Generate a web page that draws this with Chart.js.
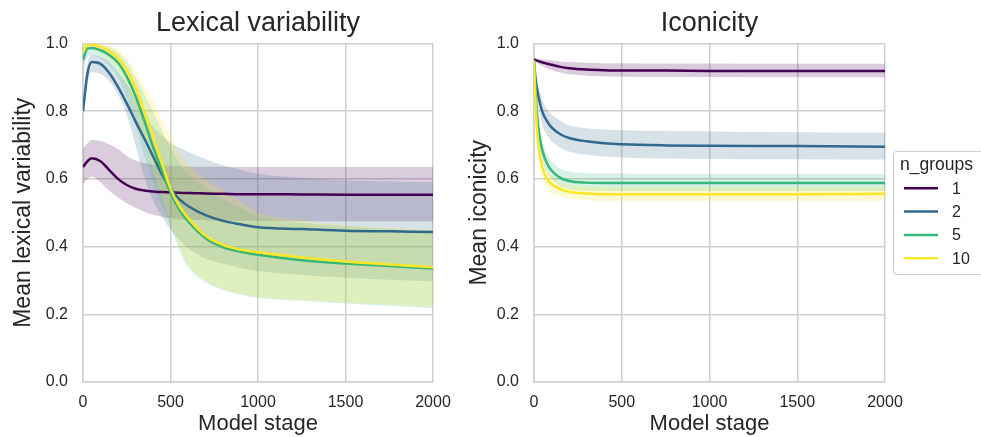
<!DOCTYPE html>
<html>
<head>
<meta charset="utf-8">
<script src="https://cdn.jsdelivr.net/npm/chart.js@4"></script>
<style>
    html, body { margin: 0; padding: 0; background: #fff; overflow: hidden; }
    #lexBox { position: absolute; left: 0; top: 0; width: 470px; height: 442px; }
    #iconBox { position: absolute; left: 450px; top: 0; width: 531px; height: 442px; }
</style>
</head>
<body>
<div id="lexBox"><canvas id="lexCanvas"></canvas></div>
<div id="iconBox"><canvas id="iconCanvas"></canvas></div>
<script>
// groups (hue)
const groupLabels = ["1", "2", "5", "10"];
const groupColors = ["#440154", "#31688e", "#35b779", "#fde725"];

// Lexical variability
const lexStages = [0, 25, 50, 100, 150, 200, 250, 300, 350, 400, 450, 500, 550, 600, 700, 800, 900, 1000, 1250, 1500, 1750, 2000];
const lexMean1 = [0.635, 0.652, 0.661, 0.652, 0.626, 0.600, 0.582, 0.571, 0.566, 0.563, 0.561, 0.560, 0.559, 0.558, 0.557, 0.556, 0.555, 0.555, 0.554, 0.553, 0.553, 0.553];
const lexHigh1 = [0.690, 0.705, 0.715, 0.712, 0.702, 0.688, 0.668, 0.655, 0.647, 0.642, 0.640, 0.639, 0.638, 0.637, 0.636, 0.636, 0.635, 0.635, 0.635, 0.635, 0.635, 0.635];
const lexLow1 = [0.585, 0.600, 0.607, 0.590, 0.565, 0.545, 0.528, 0.515, 0.503, 0.494, 0.488, 0.484, 0.481, 0.479, 0.478, 0.477, 0.476, 0.476, 0.475, 0.475, 0.475, 0.475];
const lexMean2 = [0.800, 0.910, 0.945, 0.940, 0.913, 0.872, 0.823, 0.770, 0.720, 0.667, 0.614, 0.572, 0.540, 0.520, 0.493, 0.476, 0.466, 0.457, 0.452, 0.447, 0.445, 0.443];
const lexHigh2 = [0.830, 0.940, 0.965, 0.960, 0.945, 0.915, 0.880, 0.835, 0.795, 0.755, 0.730, 0.706, 0.692, 0.680, 0.658, 0.640, 0.627, 0.615, 0.603, 0.596, 0.592, 0.590];
const lexLow2 = [0.780, 0.880, 0.915, 0.910, 0.888, 0.850, 0.790, 0.700, 0.605, 0.538, 0.490, 0.450, 0.420, 0.395, 0.365, 0.350, 0.337, 0.328, 0.316, 0.308, 0.302, 0.298];
const lexMean5 = [0.950, 0.985, 0.987, 0.980, 0.966, 0.943, 0.902, 0.845, 0.772, 0.695, 0.625, 0.560, 0.510, 0.475, 0.425, 0.398, 0.385, 0.376, 0.360, 0.350, 0.343, 0.335];
const lexHigh5 = [0.985, 0.998, 0.998, 0.995, 0.988, 0.975, 0.945, 0.900, 0.850, 0.800, 0.745, 0.690, 0.650, 0.615, 0.575, 0.540, 0.515, 0.490, 0.470, 0.460, 0.452, 0.447];
const lexLow5 = [0.900, 0.960, 0.965, 0.955, 0.935, 0.900, 0.840, 0.760, 0.670, 0.590, 0.520, 0.460, 0.390, 0.340, 0.295, 0.272, 0.258, 0.248, 0.240, 0.232, 0.225, 0.218];
const lexMean10 = [0.975, 0.995, 0.997, 0.990, 0.978, 0.957, 0.922, 0.870, 0.800, 0.726, 0.648, 0.572, 0.520, 0.485, 0.432, 0.405, 0.391, 0.383, 0.368, 0.356, 0.347, 0.339];
const lexHigh10 = [0.998, 1.000, 1.000, 1.000, 0.995, 0.985, 0.955, 0.918, 0.875, 0.830, 0.775, 0.725, 0.680, 0.645, 0.600, 0.565, 0.535, 0.500, 0.478, 0.463, 0.455, 0.450];
const lexLow10 = [0.930, 0.985, 0.990, 0.975, 0.955, 0.925, 0.875, 0.800, 0.715, 0.630, 0.550, 0.475, 0.405, 0.350, 0.300, 0.275, 0.262, 0.252, 0.243, 0.235, 0.228, 0.224];

// Iconicity
const iconStages = [0, 10, 25, 50, 75, 100, 150, 200, 300, 400, 500, 750, 1000, 1500, 2000];
const iconMean1 = [0.953, 0.951, 0.948, 0.944, 0.940, 0.937, 0.931, 0.927, 0.923, 0.921, 0.920, 0.920, 0.919, 0.919, 0.919];
const iconHigh1 = [0.957, 0.956, 0.955, 0.953, 0.951, 0.950, 0.947, 0.945, 0.943, 0.942, 0.942, 0.941, 0.941, 0.940, 0.940];
const iconLow1 = [0.949, 0.946, 0.940, 0.933, 0.927, 0.922, 0.914, 0.909, 0.905, 0.903, 0.902, 0.901, 0.901, 0.900, 0.900];
const iconMean2 = [0.950, 0.890, 0.845, 0.795, 0.770, 0.752, 0.732, 0.721, 0.711, 0.705, 0.702, 0.699, 0.698, 0.697, 0.695];
const iconHigh2 = [0.955, 0.915, 0.875, 0.830, 0.805, 0.790, 0.772, 0.758, 0.750, 0.746, 0.744, 0.742, 0.740, 0.738, 0.737];
const iconLow2 = [0.945, 0.865, 0.815, 0.755, 0.730, 0.712, 0.692, 0.681, 0.671, 0.666, 0.663, 0.660, 0.659, 0.658, 0.657];
const iconMean5 = [0.950, 0.850, 0.750, 0.680, 0.645, 0.625, 0.603, 0.594, 0.589, 0.588, 0.588, 0.588, 0.588, 0.588, 0.588];
const iconHigh5 = [0.955, 0.875, 0.780, 0.710, 0.672, 0.652, 0.630, 0.622, 0.617, 0.616, 0.616, 0.615, 0.615, 0.615, 0.615];
const iconLow5 = [0.945, 0.825, 0.720, 0.650, 0.618, 0.600, 0.578, 0.569, 0.565, 0.564, 0.564, 0.564, 0.564, 0.564, 0.564];
const iconMean10 = [0.950, 0.810, 0.700, 0.630, 0.600, 0.585, 0.570, 0.562, 0.557, 0.555, 0.555, 0.555, 0.555, 0.555, 0.556];
const iconHigh10 = [0.955, 0.840, 0.730, 0.660, 0.625, 0.610, 0.590, 0.582, 0.578, 0.576, 0.576, 0.575, 0.575, 0.575, 0.575];
const iconLow10 = [0.945, 0.780, 0.670, 0.600, 0.575, 0.560, 0.548, 0.542, 0.537, 0.535, 0.535, 0.535, 0.535, 0.535, 0.535];

const xTicks = [0, 500, 1000, 1500, 2000];
const yTicks = [0, 0.2, 0.4, 0.6, 0.8, 1.0];

Chart.defaults.font.family = "'Liberation Sans', Arial, sans-serif";
Chart.defaults.color = "#262626";

function toPoints(stages, values) {
    return stages.map((s, i) => ({ x: s, y: values[i] }));
}

function hexToRgba(hex, a) {
    const n = parseInt(hex.slice(1), 16);
    return "rgba(" + (n >> 16) + "," + ((n >> 8) & 255) + "," + (n & 255) + "," + a + ")";
}

function buildDatasets(stages, means, highs, lows) {
    const sets = [];
    for (let i = 0; i < groupLabels.length; i++) {
        // band: upper filled down to the next dataset (lower)
        sets.push({
            data: toPoints(stages, highs[i]),
            borderWidth: 0,
            pointRadius: 0,
            fill: "+1",
            backgroundColor: hexToRgba(groupColors[i], 0.2),
            cubicInterpolationMode: "monotone",
            order: 20 - i
        });
        sets.push({
            data: toPoints(stages, lows[i]),
            borderWidth: 0,
            pointRadius: 0,
            fill: false,
            cubicInterpolationMode: "monotone",
            order: 20 - i
        });
        sets.push({
            label: groupLabels[i],
            isMean: true,
            data: toPoints(stages, means[i]),
            borderColor: groupColors[i],
            borderWidth: 2.5,
            pointRadius: 0,
            fill: false,
            cubicInterpolationMode: "monotone",
            order: 4 - i
        });
    }
    return sets;
}

// legend drawn as a framed box right of the iconicity panel
const boxLegend = {
    id: "boxLegend",
    afterDraw(chart) {
        const ctx = chart.ctx;
        const left = 443, top = 151, w = 90, h = 123;
        ctx.save();
        ctx.beginPath();
        ctx.roundRect(left + 0.5, top + 0.5, w, h, 3);
        ctx.fillStyle = "rgba(255,255,255,0.8)";
        ctx.fill();
        ctx.strokeStyle = "#cccccc";
        ctx.lineWidth = 1;
        ctx.stroke();

        ctx.fillStyle = "#262626";
        ctx.font = "17.5px 'Liberation Sans', Arial, sans-serif";
        ctx.textAlign = "left";
        ctx.textBaseline = "alphabetic";
        ctx.fillText("n_groups", 450, 170);

        ctx.font = "16px 'Liberation Sans', Arial, sans-serif";
        ctx.textBaseline = "middle";
        const means = chart.data.datasets.filter(d => d.isMean);
        means.forEach((d, i) => {
            const y = 188.3 + i * 23.3;
            ctx.beginPath();
            ctx.moveTo(454, y);
            ctx.lineTo(488, y);
            ctx.strokeStyle = d.borderColor;
            ctx.lineWidth = 2.5;
            ctx.stroke();
            ctx.fillText(d.label, 502, y + 1);
        });
        ctx.restore();
    }
};

function makeChart(canvasId, title, yTitle, stages, means, highs, lows, yWidth, yTitlePad, padRight, extraPlugins) {
    return new Chart(document.getElementById(canvasId), {
        type: "line",
        data: { datasets: buildDatasets(stages, means, highs, lows) },
        plugins: extraPlugins,
        options: {
            responsive: true,
            maintainAspectRatio: false,
            animation: false,
            layout: { padding: { left: 0, right: padRight, top: 0, bottom: 0 } },
            plugins: {
                legend: { display: false },
                tooltip: { enabled: false },
                title: {
                    display: true,
                    text: title,
                    fullSize: false,
                    color: "#262626",
                    font: { size: 27, weight: "normal" },
                    padding: { top: 7.8, bottom: 3.3 }
                }
            },
            scales: {
                x: {
                    type: "linear",
                    min: 0,
                    max: 2000,
                    afterBuildTicks: s => { s.ticks = xTicks.map(v => ({ value: v })); },
                    afterFit: s => { s.height = 60; },
                    ticks: {
                        color: "#262626",
                        font: { size: 16 },
                        padding: 11,
                        callback: v => String(v)
                    },
                    grid: { color: "#d0d0d0", lineWidth: 1.5, drawTicks: false },
                    border: { color: "#d0d0d0", width: 1.5 },
                    title: {
                        display: true,
                        text: "Model stage",
                        color: "#262626",
                        font: { size: 22 },
                        padding: { top: 0, bottom: 4.7 }
                    }
                },
                y: {
                    min: 0,
                    max: 1,
                    afterBuildTicks: s => { s.ticks = yTicks.map(v => ({ value: v })); },
                    afterFit: s => { s.width = yWidth; },
                    ticks: {
                        color: "#262626",
                        font: { size: 16 },
                        padding: 15,
                        callback: v => v.toFixed(1)
                    },
                    grid: { color: "#d0d0d0", lineWidth: 1.5, drawTicks: false },
                    border: { color: "#d0d0d0", width: 1.5 },
                    title: {
                        display: true,
                        text: yTitle,
                        color: "#262626",
                        font: { size: 23 },
                        padding: { top: yTitlePad, bottom: 0 }
                    }
                }
            }
        }
    });
}

makeChart("lexCanvas", "Lexical variability", "Mean lexical variability", lexStages,
    [lexMean1, lexMean2, lexMean5, lexMean10],
    [lexHigh1, lexHigh2, lexHigh5, lexHigh10],
    [lexLow1, lexLow2, lexLow5, lexLow10],
    83, 10, 37, []);

makeChart("iconCanvas", "Iconicity", "Mean iconicity", iconStages,
    [iconMean1, iconMean2, iconMean5, iconMean10],
    [iconHigh1, iconHigh2, iconHigh5, iconHigh10],
    [iconLow1, iconLow2, iconLow5, iconLow10],
    84, 15.5, 96, [boxLegend]);
</script>
</body>
</html>
